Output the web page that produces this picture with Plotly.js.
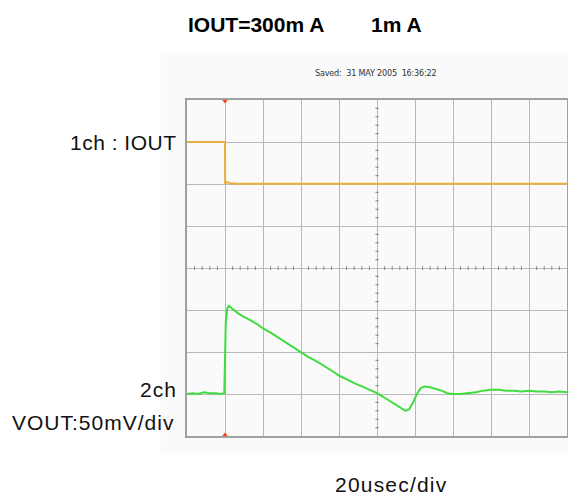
<!DOCTYPE html>
<html>
<head>
<meta charset="utf-8">
<script src="https://cdn.plot.ly/plotly-3.0.1.min.js"></script>
<style>
  html, body { margin: 0; padding: 0; background: #ffffff; }
  #chart { width: 568px; height: 498px; }
</style>
</head>
<body>
<div id="chart"></div>
<script>
// Scope settings
const timePerDiv = 20;        // µs per horizontal division
const ch1PerDiv = 300;        // mA per division (IOUT)
const ch2PerDiv = 50;         // mV per division (VOUT)
const ch1ZeroDiv = 2;         // ch1 ground marker position, divisions above centre
const ch2ZeroDiv = -3;        // ch2 reference level, divisions from centre
const triggerTime = 0;        // µs

// Channel 1: IOUT load step 300 mA -> 1 mA
const ch1Time = [-20, 0, 0.05, 1, 3, 6, 180];
const ch1Current = [300, 300, 1, 14, 6, 1, 1];

// Channel 2: VOUT deviation (mV) around its reference level
const ch2Time = [-20, -17, -14, -11, -8, -5, -2, -0.4, 0, 0.4, 1.2, 2.1, 3.5, 5, 7, 9, 11.8, 14, 17, 20,
                 24, 28, 32, 36, 40, 44, 48, 52, 56, 60, 64, 68, 72, 76, 80, 83, 86, 89, 92, 95,
                 97, 99, 101, 103, 105, 108, 111, 114, 117, 120, 124, 128, 132, 136, 140, 144, 148,
                 152, 156, 160, 164, 168, 172, 176, 180];
const ch2Volt = [0, 1, 0, 2, 1, 1, 0, 1, 40, 85, 102, 105, 102, 99, 96, 93, 90, 87, 83, 78,
                 73, 67, 61, 55, 49, 44, 39, 34, 28, 22, 17, 13, 9, 5, 1, -3, -7, -11, -15, -20,
                 -18, -10, 0, 7, 9, 8, 6, 4, 1, 0, 0, 1, 2, 4, 5, 5, 4,
                 4, 3, 4, 3, 3, 2, 3, 2];

const hDivs = 10, vDivs = 8;
const tMin = triggerTime - timePerDiv;
const tMax = tMin + hDivs * timePerDiv;
const tCenter = (tMin + tMax) / 2;

// Graticule minor ticks along the centre lines
const shapes = [];
const tickCol = '#8c8c8c';
for (let i = 1; i < hDivs * 5; i++) {
  if (i % 5 === 0) continue;
  const t = tMin + i * timePerDiv / 5;
  shapes.push({type: 'line', xref: 'x', yref: 'y', x0: t, x1: t, y0: -0.05, y1: 0.05,
               line: {color: tickCol, width: 1}});
}
for (let i = 1; i < vDivs * 5; i++) {
  if (i % 5 === 0) continue;
  const v = -vDivs / 2 + i / 5;
  shapes.push({type: 'line', xref: 'x', yref: 'y', x0: tCenter - 0.8, x1: tCenter + 0.8, y0: v, y1: v,
               line: {color: tickCol, width: 1.2}});
}
// Screen capture backdrop
shapes.unshift({type: 'rect', xref: 'paper', yref: 'paper', x0: -0.07, x1: 1.01, y0: -0.05, y1: 1.135,
                fillcolor: '#fafafa', line: {width: 0}, layer: 'below'});

const traces = [
  {x: ch1Time, y: ch1Current, yaxis: 'y2', mode: 'lines',
   line: {color: '#e8b03c', width: 2}, hoverinfo: 'skip'},
  {x: ch2Time, y: ch2Volt, yaxis: 'y3', mode: 'lines',
   line: {color: '#40dc40', width: 2}, hoverinfo: 'skip'},
  {x: [triggerTime], y: [vDivs / 2], yaxis: 'y', mode: 'markers', cliponaxis: false,
   marker: {symbol: 'triangle-down', size: 7, color: '#ff3a10'}, hoverinfo: 'skip'},
  {x: [triggerTime], y: [-vDivs / 2], yaxis: 'y', mode: 'markers', cliponaxis: false,
   marker: {symbol: 'triangle-up', size: 7, color: '#ff3a10'}, hoverinfo: 'skip'}
];

const labelFont = {family: 'Liberation Sans, Arial, sans-serif', size: 21, color: '#111111'};
const nb = '\u00a0';

const layout = {
  width: 568, height: 498,
  margin: {l: 187, r: 1, t: 100, b: 62},
  paper_bgcolor: '#ffffff',
  plot_bgcolor: '#f3f8f2',
  showlegend: false,
  xaxis: {range: [tMin, tMax], dtick: timePerDiv, tick0: tMin, showgrid: true, gridcolor: '#b8b8b8',
          gridwidth: 1, zeroline: false, showticklabels: false, ticks: '',
          showline: true, mirror: true, linecolor: '#a0a0a0', linewidth: 2, fixedrange: true},
  yaxis: {range: [-vDivs / 2, vDivs / 2], dtick: 1, showgrid: true, gridcolor: '#b8b8b8',
          gridwidth: 1, zeroline: false, showticklabels: false, ticks: '',
          showline: true, mirror: true, linecolor: '#a0a0a0', linewidth: 2, fixedrange: true},
  yaxis2: {overlaying: 'y', visible: false, fixedrange: true,
           range: [(-vDivs / 2 - ch1ZeroDiv) * ch1PerDiv, (vDivs / 2 - ch1ZeroDiv) * ch1PerDiv]},
  yaxis3: {overlaying: 'y', visible: false, fixedrange: true,
           range: [(-vDivs / 2 - ch2ZeroDiv) * ch2PerDiv, (vDivs / 2 - ch2ZeroDiv) * ch2PerDiv]},
  shapes: shapes,
  annotations: [
    {xref: 'paper', yref: 'paper', x: 0.31, y: 1.225, xanchor: 'center', yanchor: 'middle', showarrow: false,
     text: '<b>IOUT=300m A' + nb.repeat(8) + '1m A</b>',
     font: {family: 'Liberation Sans, Arial, sans-serif', size: 21, color: '#000000'}},
    {xref: 'paper', yref: 'paper', x: 0.495, y: 1.08, xanchor: 'center', yanchor: 'middle', showarrow: false,
     text: '<span style="letter-spacing:-0.2px">Saved:' + nb + nb + '31 MAY 2005' + nb + nb + '16:36:22</span>',
     font: {family: 'Liberation Sans Narrow, DejaVu Sans Condensed, sans-serif', size: 9, color: '#333333'}},
    {xref: 'paper', yref: 'y', x: -0.022, y: 3, xanchor: 'right', yanchor: 'middle', showarrow: false,
     text: '<span style="letter-spacing:0.5px">1ch : IOUT</span>', font: labelFont},
    {xref: 'paper', yref: 'y', x: -0.022, y: -2.9, xanchor: 'right', yanchor: 'middle', showarrow: false,
     text: '<span style="letter-spacing:1px">2ch</span>', font: labelFont},
    {xref: 'paper', yref: 'y', x: -0.03, y: -3.69, xanchor: 'right', yanchor: 'middle', showarrow: false,
     text: '<span style="letter-spacing:1px">VOUT:50mV/div</span>', font: labelFont},
    {xref: 'paper', yref: 'paper', x: 0.538, y: -0.145, xanchor: 'center', yanchor: 'middle', showarrow: false,
     text: '<span style="letter-spacing:1.2px">20usec/div</span>', font: labelFont}
  ]
};

Plotly.newPlot('chart', traces, layout, {displayModeBar: false, staticPlot: true});
</script>
</body>
</html>
